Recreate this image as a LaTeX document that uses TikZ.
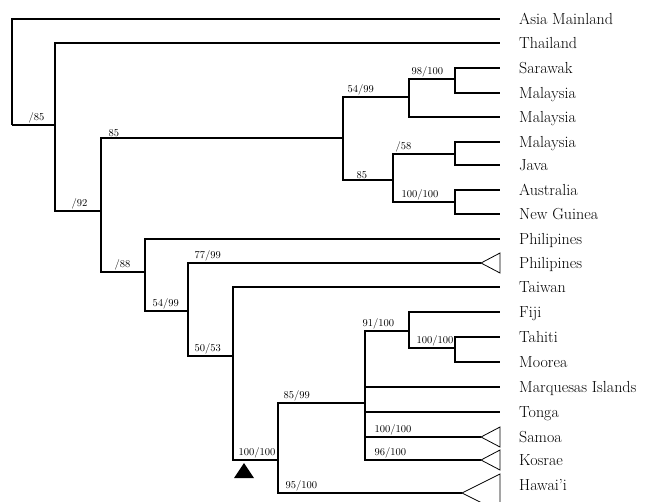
\documentclass[tikz,border=0pt]{standalone}
\begin{document}
\begin{tikzpicture}[x=1pt,y=-1pt,
  branch/.style={line width=1.2pt},
  clade/.style={line width=0.8pt},
  taxon/.style={anchor=base west,inner sep=0pt,font=\fontsize{16}{19}\selectfont},
  support/.style={anchor=south west,inner sep=1.5pt,font=\fontsize{10.5}{12}\selectfont}]
\useasboundingbox (0,0) rectangle (652,501);
% leaf tips
\coordinate (asia) at (500,19);
\coordinate (thai) at (500,43);
\coordinate (sara) at (500,68);
\coordinate (mal1) at (500,93);
\coordinate (mal2) at (500,117);
\coordinate (mal3) at (500,142);
\coordinate (java) at (500,165);
\coordinate (aust) at (500,190);
\coordinate (newg) at (500,214);
\coordinate (phil1) at (500,239);
\coordinate (phil2) at (481,263);
\coordinate (taiw) at (500,287);
\coordinate (fiji) at (500,312);
\coordinate (tahi) at (500,337);
\coordinate (moor) at (500,362);
\coordinate (marq) at (500,387);
\coordinate (tong) at (500,412);
\coordinate (samo) at (481,437);
\coordinate (kosr) at (481,460);
\coordinate (hawa) at (462,493);
% inner nodes
\coordinate (root) at (12,125);
\coordinate (n1) at (55,125);
\coordinate (n2) at (101,211);
\coordinate (n3) at (343,138);
\coordinate (n4) at (409,97);
\coordinate (n5) at (455,79);
\coordinate (n6) at (393,180);
\coordinate (n7) at (455,154);
\coordinate (n8) at (455,202);
\coordinate (n9) at (145,272);
\coordinate (n10) at (188,311);
\coordinate (n11) at (233,356);
\coordinate (n12) at (278,460);
\coordinate (n13) at (365,403);
\coordinate (n14) at (409,331);
\coordinate (n15) at (455,348);
% branches
\draw[branch] (root) |- (asia);
\draw[branch] (root) |- (n1);
\draw[branch] (n1) |- (thai);
\draw[branch] (n1) |- (n2);
\draw[branch] (n2) |- (n3);
\draw[branch] (n2) |- (n9);
\draw[branch] (n3) |- (n4);
\draw[branch] (n3) |- (n6);
\draw[branch] (n4) |- (n5);
\draw[branch] (n4) |- (mal2);
\draw[branch] (n5) |- (sara);
\draw[branch] (n5) |- (mal1);
\draw[branch] (n6) |- (n7);
\draw[branch] (n6) |- (n8);
\draw[branch] (n7) |- (mal3);
\draw[branch] (n7) |- (java);
\draw[branch] (n8) |- (aust);
\draw[branch] (n8) |- (newg);
\draw[branch] (n9) |- (phil1);
\draw[branch] (n9) |- (n10);
\draw[branch] (n10) |- (phil2);
\draw[branch] (n10) |- (n11);
\draw[branch] (n11) |- (taiw);
\draw[branch] (n11) |- (n12);
\draw[branch] (n12) |- (n13);
\draw[branch] (n12) |- (hawa);
\draw[branch] (n13) |- (n14);
\draw[branch] (n13) |- (marq);
\draw[branch] (n13) |- (tong);
\draw[branch] (n13) |- (samo);
\draw[branch] (n13) |- (kosr);
\draw[branch] (n14) |- (fiji);
\draw[branch] (n14) |- (n15);
\draw[branch] (n15) |- (tahi);
\draw[branch] (n15) |- (moor);
% collapsed clades
\draw[clade] (phil2) -- ++(19,-10) -- ++(0,20) -- cycle;
\draw[clade] (samo) -- ++(19,-10) -- ++(0,20) -- cycle;
\draw[clade] (kosr) -- ++(19,-10) -- ++(0,20) -- cycle;
\draw[clade] (hawa) -- ++(38,-19) -- ++(0,38) -- cycle;
\fill (244,463) -- (254,478) -- (234,478) -- cycle;
% taxa
\node[taxon] (asiaLab) at (519,24) {Asia Mainland};
\node[taxon] (thaiLab) at (519,48) {Thailand};
\node[taxon] (saraLab) at (519,73) {Sarawak};
\node[taxon] (mal1Lab) at (519,98) {Malaysia};
\node[taxon] (mal2Lab) at (519,122) {Malaysia};
\node[taxon] (mal3Lab) at (519,147) {Malaysia};
\node[taxon] (javaLab) at (519,170) {Java};
\node[taxon] (austLab) at (519,195) {Australia};
\node[taxon] (newgLab) at (519,219) {New Guinea};
\node[taxon] (phil1Lab) at (519,244) {Philipines};
\node[taxon] (phil2Lab) at (519,268) {Philipines};
\node[taxon] (taiwLab) at (519,292) {Taiwan};
\node[taxon] (fijiLab) at (519,317) {Fiji};
\node[taxon] (tahiLab) at (519,342) {Tahiti};
\node[taxon] (moorLab) at (519,367) {Moorea};
\node[taxon] (marqLab) at (519,392) {Marquesas Islands};
\node[taxon] (tongLab) at (519,417) {Tonga};
\node[taxon] (samoLab) at (519,442) {Samoa};
\node[taxon] (kosrLab) at (519,465) {Kosrae};
\node[taxon] (hawaLab) at (519,490) {Hawai'i};
% support values
\node[support] (s1) at (27,125) {/85};
\node[support] (s2) at (70,211) {/92};
\node[support] (s3) at (107,138) {85};
\node[support] (s4) at (346,97) {54/99};
\node[support] (s5) at (410,79) {98/100};
\node[support] (s6) at (394,154) {/58};
\node[support] (s7) at (355,180) {85};
\node[support] (s8) at (400,202) {100/100};
\node[support] (s9) at (113,272) {/88};
\node[support] (s10) at (151,311) {54/99};
\node[support] (s11) at (193,263) {77/99};
\node[support] (s12) at (193,356) {50/53};
\node[support] (s13) at (237,460) {100/100};
\node[support] (s14) at (282,403) {85/99};
\node[support] (s15) at (284,493) {95/100};
\node[support] (s16) at (361,331) {91/100};
\node[support] (s17) at (415,348) {100/100};
\node[support] (s18) at (373,437) {100/100};
\node[support] (s19) at (373,460) {96/100};
\end{tikzpicture}
\end{document}
